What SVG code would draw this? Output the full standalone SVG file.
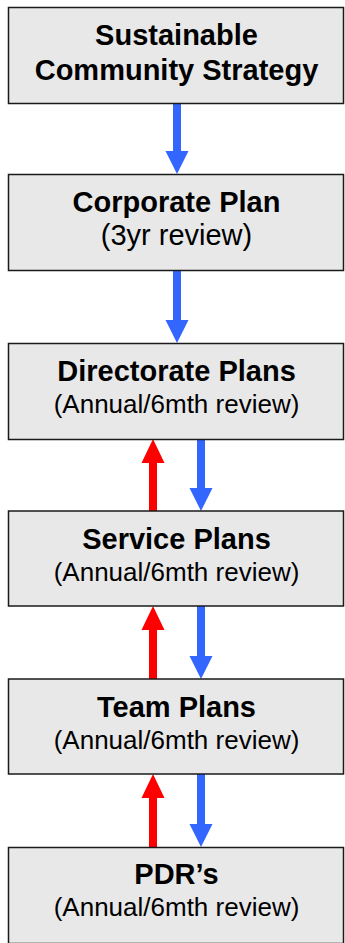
<svg xmlns="http://www.w3.org/2000/svg" width="345" height="943" viewBox="0 0 345 943">
<style>
.box{fill:#e8e8e8;stroke:#1a1a1a;stroke-width:1.5}
.t{font-family:"Liberation Sans",Arial,sans-serif;fill:#000;text-anchor:middle}
.b{font-weight:bold;font-size:29px}
.r{font-size:26px}
.r2{font-size:29px}
.blue{fill:#3366ff}
.red{fill:#ff0000}
</style>
<rect width="345" height="943" fill="#ffffff"/>
<g id="connectors">
<polygon class="blue" points="173,103 181,103 181,151 188.5,151 177,174 165.5,151 173,151"/>
<polygon class="blue" points="173,271 181,271 181,320 188.5,320 177,343 165.5,320 173,320"/>
<polygon class="red" points="149,511 157,511 157,463 164.5,463 153,439 141.5,463 149,463"/>
<polygon class="blue" points="197,439 205,439 205,488 212.5,488 201,511 189.5,488 197,488"/>
<polygon class="red" points="149,679 157,679 157,630 164.5,630 153,606 141.5,630 149,630"/>
<polygon class="blue" points="197,606 205,606 205,656 212.5,656 201,679 189.5,656 197,656"/>
<polygon class="red" points="149,847 157,847 157,798 164.5,798 153,774 141.5,798 149,798"/>
<polygon class="blue" points="197,774 205,774 205,824 212.5,824 201,847 189.5,824 197,824"/>
</g>
<g id="sustainable">
<rect class="box" x="8.5" y="7.5" width="335" height="96"/>
<text class="t b" x="176.5" y="45">Sustainable</text>
<text class="t b" x="176.5" y="80">Community Strategy</text>
</g>
<g id="corporate">
<rect class="box" x="8.5" y="174.5" width="335" height="96"/>
<text class="t b" x="176.5" y="211.5">Corporate Plan</text>
<text class="t r2" x="176.5" y="244.5">(3yr review)</text>
</g>
<g id="directorate">
<rect class="box" x="8.5" y="343.5" width="335" height="96"/>
<text class="t b" x="176.5" y="380.5">Directorate Plans</text>
<text class="t r" x="176.5" y="413">(Annual/6mth review)</text>
</g>
<g id="service">
<rect class="box" x="8.5" y="511" width="335" height="95"/>
<text class="t b" x="176.5" y="549">Service Plans</text>
<text class="t r" x="176.5" y="581">(Annual/6mth review)</text>
</g>
<g id="team">
<rect class="box" x="8.5" y="679" width="335" height="95"/>
<text class="t b" x="176.5" y="717">Team Plans</text>
<text class="t r" x="176.5" y="748.5">(Annual/6mth review)</text>
</g>
<g id="pdr">
<rect class="box" x="8.5" y="847.5" width="335" height="96"/>
<text class="t b" x="176.5" y="884">PDR’s</text>
<text class="t r" x="176.5" y="916">(Annual/6mth review)</text>
</g>
</svg>
